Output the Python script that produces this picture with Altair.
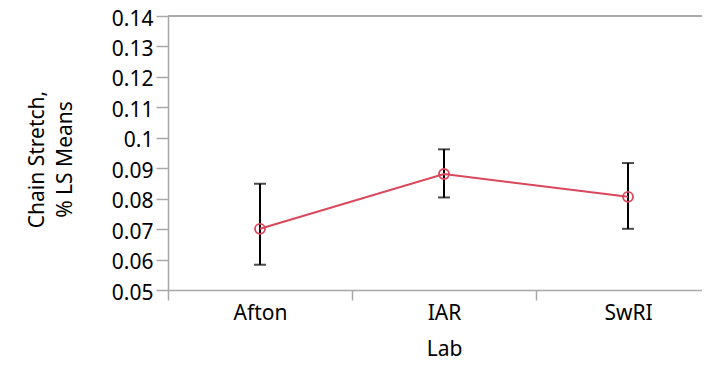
import altair as alt
import pandas as pd

labs = ["Afton", "IAR", "SwRI"]
means = [0.0701, 0.0881, 0.0806]
lower = [0.0583, 0.0804, 0.0701]
upper = [0.0849, 0.0962, 0.0917]
y_ticks = [0.05, 0.06, 0.07, 0.08, 0.09, 0.10, 0.11, 0.12, 0.13, 0.14]

df = pd.DataFrame({"Lab": labs, "mean": means, "lo": lower, "hi": upper})

FONT = "Noto Sans"
GREY = "#a8a8a8"
RED = "#d9475a"

x_scale = alt.Scale(domain=labs, range=[0, 552], paddingInner=0, paddingOuter=0)
x_axis = alt.Axis(title="Lab", labelAngle=0, tickBand="extent", tickSize=10,
                  labelPadding=2, titlePadding=15)
y_scale = alt.Scale(domain=[0.05, 0.14], nice=False, zero=False)
y_axis = alt.Axis(values=y_ticks, format=".2~f", tickSize=12, labelPadding=3,
                  labelOffset=3, labelOverlap=False, title=["Chain Stretch,", "% LS Means"],
                  titleLineHeight=28, titlePadding=36, titleY=143)


def X():
    return alt.X("Lab:N", sort=labs, scale=x_scale, axis=x_axis)


def Y(field):
    return alt.Y(field, type="quantitative", scale=y_scale, axis=y_axis)


base = alt.Chart(df)

frame = base.mark_rule(color=GREY, strokeWidth=1.5).encode(
    x=alt.value(0), x2=alt.value(552), y=alt.value(0))

bars = base.mark_rule(color="black", strokeWidth=2).encode(
    x=X(), y=Y("lo"), y2="hi:Q")
cap_lo = base.mark_tick(color="black", size=12, thickness=2, orient="horizontal").encode(
    x=X(), y=Y("lo"))
cap_hi = base.mark_tick(color="black", size=12, thickness=2, orient="horizontal").encode(
    x=X(), y=Y("hi"))
line = base.mark_line(color=RED, strokeWidth=2).encode(
    x=X(), y=Y("mean"))
pts = base.mark_point(shape="circle", size=100, filled=False, color=RED, strokeWidth=1.8, opacity=1).encode(
    x=X(), y=Y("mean"))

chart = alt.layer(bars, cap_lo, cap_hi, line, pts, frame).properties(
    width=534, height=274,
    autosize=alt.AutoSizeParams(type="none"),
    padding={"left": 160, "top": 8, "right": 0, "bottom": 69},
).configure_view(strokeWidth=0).configure(background="white").configure_axis(
    grid=False, tickColor=GREY, domainColor=GREY, domainWidth=1.5, tickWidth=1.5,
    labelFontSize=21, labelFont=FONT, labelColor="black", labelOverlap=False,
    titleFontSize=21, titleFont=FONT, titleFontWeight="normal", titleColor="black",
)

chart.save("out.html", embed_options={"renderer": "svg", "actions": False})
